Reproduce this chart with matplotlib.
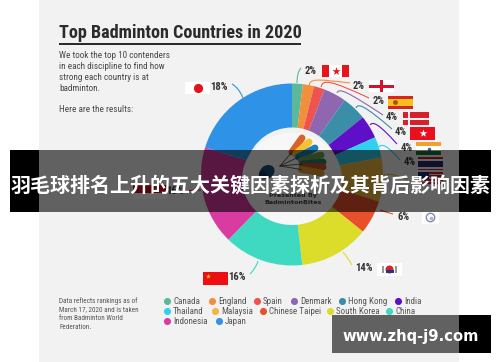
#!/usr/bin/env python3
"""Top Badminton Countries in 2020 - donut infographic with banner overlays."""

import matplotlib
matplotlib.use('Agg')
import matplotlib.pyplot as plt
from matplotlib.patches import Rectangle, Ellipse, Circle, PathPatch
from matplotlib.path import Path

NARROW = ['Roboto Condensed', 'Roboto', 'DejaVu Sans']

countries = ['Canada', 'England', 'Spain', 'Denmark', 'Hong Kong', 'India', 'Thailand',
             'Malaysia', 'Chinese Taipei', 'South Korea', 'China', 'Indonesia', 'Japan']
# slice sizes
shares = [1.9, 2.0, 1.9, 4.0, 4.4, 4.1, 3.7, 7.8, 6.0, 12.4, 14.1, 17.5, 20.2]
colors = ['#5cb89a', '#f28f3b', '#ef5350', '#8e67b0', '#3a8ea8', '#5e10c8', '#30d0ee',
          '#f0b83e', '#e8502c', '#dcdc2a', '#3fd8c0', '#d93ba0', '#2e93e6']
pct_labels = ['2%', '2%', '2%', '4%', '4%', '4%', '4%', '', '6%', '14%', '16%', '16%', '18%']

title = 'Top Badminton Countries in 2020'
intro = ['We took the top 10 contenders', 'in each discipline to find how',
         'strong each country is at', 'badminton.', '', 'Here are the results:']
source = ['Data reflects rankings as of', 'March 17, 2020 and is taken',
          'from Badminton World', 'Federation.']
banner = '羽毛球排名上升的五大关键因素探析及其背后影响因素'
watermark = 'www.zhq-j9.com'

fig = plt.figure(figsize=(5, 3.62), dpi=100, facecolor='white')
ax = fig.add_axes([0, 0, 1, 1])

# y axis runs downward so everything is placed in picture pixels
ax.pie(shares, colors=colors, center=(292, 174.5), radius=91, startangle=-90,
       counterclock=True, wedgeprops={'width': 44, 'linewidth': 0, 'zorder': 2})
ax.set_xlim(0, 500)
ax.set_ylim(362, 0)
ax.set_aspect('auto')
ax.axis('off')

ax.add_patch(Rectangle((39, 0), 420, 362, fc='#f2f2f2', ec='none', zorder=0))
ax.add_patch(Ellipse((292, 179), 100, 92, fc='#f7f7f7', ec='none', zorder=3))


def rect(x, y, w, h, c, z=5):
    ax.add_patch(Rectangle((x, y), w, h, fc=c, ec='none', zorder=z))


# ===== Title block =====
ax.text(59, 38.5, title, family=NARROW, fontsize=13.05, fontweight='bold', color='#2b2b2b',
        va='baseline', zorder=5)
rect(59, 42.5, 242, 2.5, '#2b2b2b')
for i, line in enumerate(intro):
    ax.text(59, 55.5 + i * 10.9, line, family=NARROW, fontsize=6.6, color='#484848',
            va='center', zorder=5)
for i, line in enumerate(source):
    ax.text(59, 301.5 + i * 8.6, line, family=NARROW, fontsize=5.15, color='#555555',
            va='center', zorder=5)

# ===== Legend =====
legend_rows = [301, 301, 301, 301, 301, 301, 311, 311, 311, 311, 311, 321, 321]
legend_dots = [167, 212, 257, 294, 342, 398, 167, 215, 263, 330, 389, 167, 219]
for name, c, dx, dy in zip(countries, colors, legend_dots, legend_rows):
    ax.scatter([dx], [dy], s=26, color=c, linewidths=0, zorder=5)
    ax.text(dx + 6, dy, name, family=NARROW, fontsize=6.5, color='#555555', va='center', zorder=5)

# ===== Leader lines =====
leaders = [
    [(297, 83), (297, 72), (301, 68)],
    [(309, 87), (309, 78), (316, 79), (350, 83)],
    [(321, 87), (323, 79), (330, 80), (369, 98)],
    [(337, 93), (339, 88), (345, 90), (383, 115)],
    [(356, 108), (358, 103), (364, 105), (392, 129)],
    [(370, 125), (373, 121), (379, 124), (397, 144)],
    [(379, 147), (382, 143), (388, 146), (400, 160)],
    [(381, 176), (390, 172), (398, 176), (408, 180)],
    [(380, 210), (385, 212), (393, 214)],
    [(343, 252), (348, 258), (352, 265)],
    [(258, 261), (256, 268), (250, 274)],
    [(201, 190), (195, 190), (182, 191)],
    [(243, 98), (239, 88), (232, 84)],
]
for pts, c in zip(leaders, colors):
    codes = [Path.MOVETO] + [Path.CURVE3] * 2 if len(pts) == 3 else [Path.MOVETO] + [Path.CURVE4] * 3
    ax.add_patch(PathPatch(Path(pts, codes), fc='none', ec=c, lw=0.8, zorder=1))

# ===== Percentage labels =====
label_spots = [(311, 70.5), (359, 86), (379, 101), (392, 117), (401, 132), (407, 148), (410, 162),
               (415, 178), (404, 217), (364, 268), (237, 277), (175, 191), (219, 87)]
for txt, (lx, ly) in zip(pct_labels, label_spots):
    ax.text(lx, ly, txt, family=NARROW, fontsize=7.6, fontweight='bold', color='#333333',
            ha='center', va='center', zorder=5)

# ===== Flags =====
RED = '#e8141c'
# Canada
rect(322, 65, 27, 12, 'white')
rect(322, 65, 7, 12, RED)
rect(342, 65, 7, 12, RED)
ax.scatter([335.5], [71], marker='*', s=38, color=RED, linewidths=0, zorder=6)
# England
rect(369, 80, 25, 12, 'white')
rect(369, 84.5, 25, 3, '#d0142c')
rect(380, 80, 3, 12, '#d0142c')
# Spain
rect(388, 96, 25, 12.5, '#d8261c')
rect(388, 99, 25, 6.5, '#f4c020')
ax.scatter([394.5], [102], s=12, color='#a8501c', linewidths=0, zorder=6)
# Denmark
rect(403, 112, 26, 13, '#d8202c')
rect(407.5, 112, 2.5, 13, '#f2f2f2', 6)
rect(403, 117.5, 26, 2.5, '#f2f2f2', 6)
# Hong Kong
rect(410, 127, 25, 12.5, '#e8101c')
ax.scatter([422.5], [133], marker='*', s=34, color='white', linewidths=0, zorder=6)
# India
rect(416, 142, 25, 13, 'white')
rect(416, 142, 25, 4, '#f4a030')
rect(416, 151, 25, 4, '#1a7a30')
ax.scatter([428.5], [148.5], s=6, color='#555599', linewidths=0, zorder=6)
# Thailand
rect(418, 157, 25, 13, '#f7f7f7')
rect(418, 157, 25, 1.5, '#c02030')
rect(418, 160.5, 25, 6, '#2a2a70')
rect(418, 168.5, 25, 1.5, '#c02030')
# Malaysia
rect(418, 172, 25, 13, '#e8e8e8')
for k in range(4):
    rect(418, 172 + k * 3.4, 25, 1.7, '#d02030')
rect(418, 172, 11, 7, '#1a2a80', 6)
# Chinese Taipei
rect(422, 212, 17, 11.5, 'white')
ax.add_patch(Circle((430.5, 217.5), 4.2, fc='white', ec='#8088b0', lw=1, zorder=6))
ax.scatter([430.5], [217.5], s=7, color='#b0b4cc', linewidths=0, zorder=7)
# South Korea
rect(377, 263, 25, 13, 'white')
ax.add_patch(Ellipse((389.5, 269.5), 8, 8, fc='#d8202c', ec='none', zorder=6))
ax.add_patch(Rectangle((385.5, 269.8), 8, 3.5, fc='#1a3a80', ec='none', zorder=6))
ax.add_patch(Rectangle((382, 266), 2, 7, fc='#333333', ec='none', zorder=6, alpha=0.5))
ax.add_patch(Rectangle((395, 266), 2, 7, fc='#333333', ec='none', zorder=6, alpha=0.5))
# China
rect(203, 272, 25, 12.5, '#ee1010')
ax.scatter([207.5], [276], marker='*', s=14, color='#f4c020', linewidths=0, zorder=6)
# Indonesia
rect(133, 185, 34, 8, '#d0141c')
rect(133, 193, 34, 6, 'white')
# Japan
rect(185, 82, 25, 12, 'white')
ax.scatter([197.5], [88], s=44, color='#e0141c', linewidths=0, zorder=6)

# ===== Shuttlecock =====
neck = (280, 166)
tips = [(304, 138), (311, 142), (317, 148), (323, 155), (325, 162), (325, 167), (323, 173)]
tones = ['#d9622b', '#f2c230', '#1f7fb8', '#6aa84f', '#2f7f6f', '#d8502c', '#e0a030']
for (tx, ty), c in zip(tips, tones):
    mx = neck[0] + (tx - neck[0]) * 0.5
    my = neck[1] + (ty - neck[1]) * 0.5
    ax.plot([mx, tx - 2], [my, ty], color=c, lw=5.0, solid_capstyle='round', zorder=4)
for (tx, ty) in tips[::2]:
    ax.plot([neck[0], neck[0] + (tx - neck[0]) * 0.5],
            [neck[1], neck[1] + (ty - neck[1]) * 0.5], color='#333333', lw=0.5, zorder=4)
ax.add_patch(Ellipse((267, 172), 16, 13, angle=-35, fc='#1c4f7c', ec='none', zorder=4))
ax.add_patch(Ellipse((263, 175), 8, 9, angle=-35, fc='#13395a', ec='none', zorder=4))
ax.text(293, 195, 'Presented By', fontsize=4.6, fontweight='bold', color='#444444',
        ha='center', va='center', zorder=5)
ax.text(293, 202.5, 'BadmintonBites', fontsize=4.6, fontweight='bold', color='#444444',
        ha='center', va='center', zorder=5)

# ===== Overlays: see-through on the panel, solid black beyond it =====
rect(39, 150, 420, 62, (0, 0, 0, 0.6), 10)
rect(10, 150, 29, 62, 'black', 10)
rect(459, 150, 32, 62, 'black', 10)
ax.text(250.5, 184.5, banner, family=['Noto Sans CJK SC', 'DejaVu Sans'], fontsize=14.4,
        fontweight='bold', color='white', ha='center', va='center', zorder=11)

rect(332, 315, 127, 38, (0, 0, 0, 0.6), 10)
rect(459, 315, 32, 38, 'black', 10)
ax.text(411, 336.5, watermark, fontsize=10.6, fontweight='bold', color='white',
        ha='center', va='center', zorder=11)

plt.savefig('out.png', dpi=100)
